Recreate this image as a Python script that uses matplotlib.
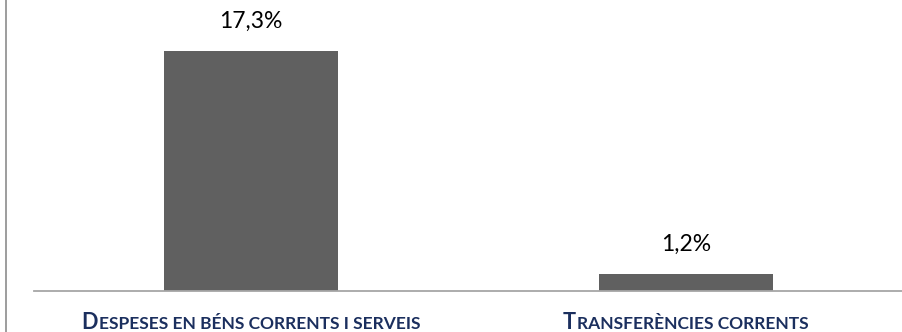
import matplotlib
matplotlib.use("Agg")
import matplotlib.pyplot as plt
from matplotlib.offsetbox import TextArea, HPacker, AnnotationBbox
from matplotlib.lines import Line2D

categories = ["Despeses en béns corrents i serveis", "Transferències corrents"]
values = [17.3, 1.2]
value_labels = ["17,3%", "1,2%"]

BAR = "#606060"
NAVY = "#1B2F5E"
AXIS = "#A6A6A6"
FONT = "Lato"

fig = plt.figure(figsize=(9.03, 3.32), dpi=100)
W, H = 903, 332
ax = fig.add_axes([34 / W, (H - 291) / H, (903 - 34) / W, 291 / H])

x = list(range(len(categories)))
ax.bar(x, values, width=0.4, color=BAR, zorder=2)
ax.set_xlim(-0.5, 1.5)
ax.set_ylim(0, 21)

for xi, v, lab in zip(x, values, value_labels):
    ax.annotate(lab, (xi, v), xytext=(0, 14), textcoords="offset points",
                ha="center", va="bottom", fontsize=16.5, family=FONT, color="black")

for s in ["top", "right", "left"]:
    ax.spines[s].set_visible(False)
ax.spines["bottom"].set_color(AXIS)
ax.spines["bottom"].set_linewidth(1.3)
ax.set_yticks([])
ax.set_xticks([])

# small-caps category labels
for xi, cat in zip(x, categories):
    first = cat[0].upper()
    rest = cat[1:].upper()
    t1 = TextArea(first, textprops=dict(fontsize=15.6, family=FONT, weight="bold", color=NAVY))
    t2 = TextArea(rest, textprops=dict(fontsize=12.5, family=FONT, weight="bold", color=NAVY))
    pack = HPacker(children=[t1, t2], align="baseline", pad=0, sep=1)
    ab = AnnotationBbox(pack, (xi, 0), xybox=(0, -15), xycoords="data",
                        boxcoords="offset points", frameon=False,
                        box_alignment=(0.5, 1.0), pad=0, annotation_clip=False)
    ax.add_artist(ab)

# chart-area border (left edge visible)
fig.add_artist(Line2D([6.5 / W, 6.5 / W], [0, 1], transform=fig.transFigure,
                      color="#8C8C8C", lw=1.2))

fig.savefig("out.png", dpi=100)
